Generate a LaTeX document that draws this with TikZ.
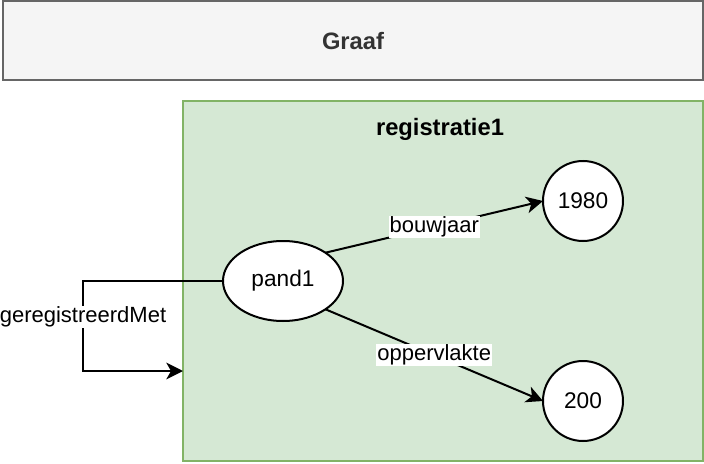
\documentclass[tikz,border=0pt]{standalone}
\usepackage{fontspec}
\setmainfont{Liberation Sans}
\usetikzlibrary{arrows.meta,shapes.geometric}
\definecolor{graafFill}{HTML}{F5F5F5}
\definecolor{graafLine}{HTML}{666666}
\definecolor{graafText}{HTML}{333333}
\definecolor{regFill}{HTML}{D5E8D4}
\definecolor{regLine}{HTML}{82B366}
\tikzset{
  txt/.style={font=\fontsize{16.5pt}{19pt}\selectfont},
  nodetxt/.style={font=\fontsize{17pt}{20pt}\selectfont},
  boldtxt/.style={font=\fontsize{17.8pt}{20pt}\selectfont\bfseries},
  panel/.style={rectangle, line width=1.5pt, inner sep=0pt, outer sep=0pt},
  res/.style={ellipse, draw=black, fill=white, line width=1.5pt, inner sep=0pt, outer sep=0pt, nodetxt},
  edge/.style={draw=black, line width=1.5pt, -{Stealth[length=12.5pt,width=12.5pt,inset=3.5pt]}},
  elabel/.style={fill=white, inner sep=0.8pt, txt, text=black}
}
\begin{document}
\begin{tikzpicture}[x=0.75pt,y=-0.75pt]
\useasboundingbox (0,0) rectangle (704,464);
% Graaf box
\node[panel, draw=graafLine, fill=graafFill, minimum width=525pt, minimum height=59.25pt] (graaf) at (353,40.5) {};
\node[boldtxt, text=graafText] (graaftitle) at (353,41.5) {Graaf};
% registratie1 container
\node[panel, draw=regLine, fill=regFill, minimum width=390pt, minimum height=270pt] (reg) at (443,281) {};
\node[boldtxt, text=black] (regtitle) at (440,129) {registratie1};
% resources
\node[res, minimum width=90pt, minimum height=60pt] (pand1) at (283,281) {pand1};
\node[res, circle, minimum size=60pt] (n1980) at (583,201) {1980};
\node[res, circle, minimum size=60pt] (n200) at (583,401) {200};
% edges
\draw[edge] (pand1.north east) -- node[elabel] (lbouw) {bouwjaar} (n1980.west);
\draw[edge] (pand1.south east) -- node[elabel] (lopp) {oppervlakte} (n200.west);
% link from pand1 to the container
\coordinate (bend) at (83,281);
\coordinate (regin) at (183,371);
\draw[edge] (pand1.west) -- (bend) |- (regin);
\node[elabel] (lreg) at (83,317) {geregistreerdMet};
\end{tikzpicture}
\end{document}
